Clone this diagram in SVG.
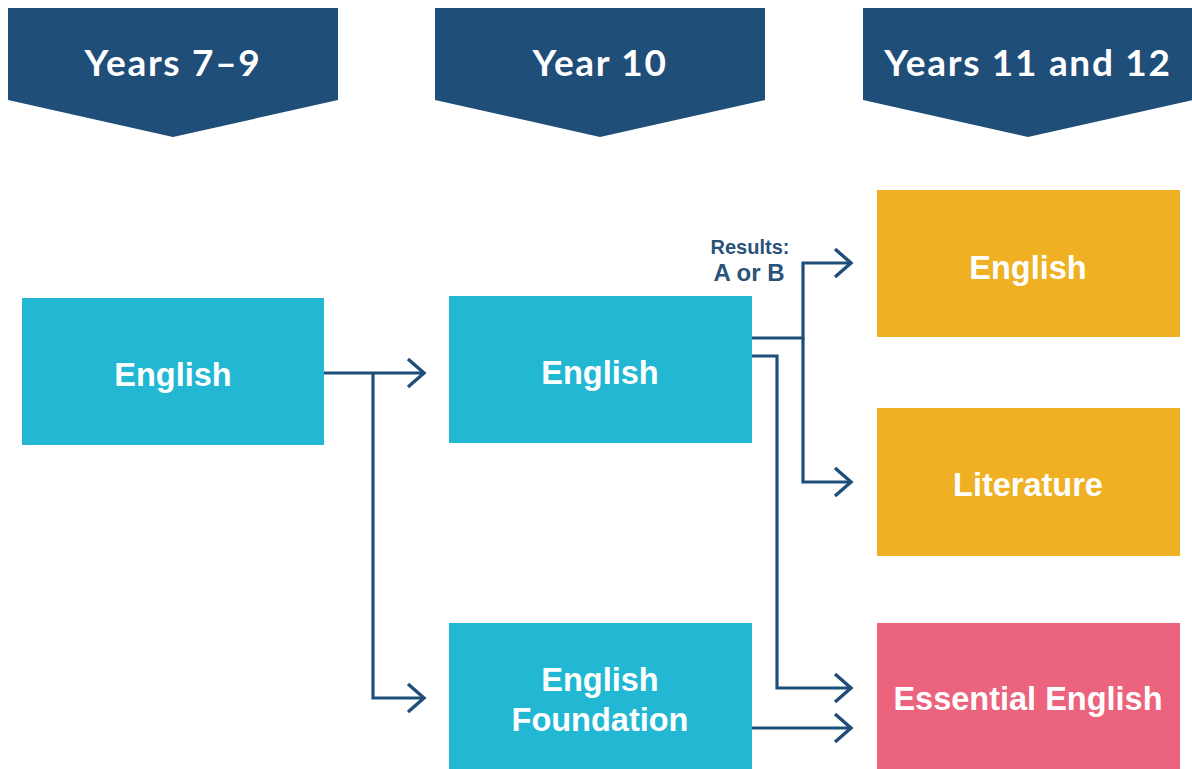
<svg xmlns="http://www.w3.org/2000/svg" width="1192" height="769" viewBox="0 0 1192 769">
<style>
.hdr{fill:#1F4E79}
.htxt{font-family:"Lato","Open Sans","Liberation Sans",sans-serif;font-weight:bold;font-size:37px;fill:#fff;text-anchor:middle;letter-spacing:1.7px}
.ntxt{font-family:"Liberation Sans",Arial,sans-serif;font-weight:bold;font-size:32.5px;fill:#fff;text-anchor:middle}
.blue{fill:#22B8D3}
.yel{fill:#F0B023}
.pink{fill:#EC637E}
.conn{fill:none;stroke:#1F4E79;stroke-width:3.2;stroke-linejoin:miter}
.lbl{font-family:"Liberation Sans",Arial,sans-serif;font-weight:bold;fill:#2B5279;text-anchor:middle}
</style>
<defs>
<marker id="arr" markerWidth="24" markerHeight="32" refX="19" refY="16" orient="auto" markerUnits="userSpaceOnUse">
<path d="M3,2 L19,16 L3,30" fill="none" stroke="#1F4E79" stroke-width="3.4"/>
</marker>
</defs>
<g id="hdr1"><path class="hdr" d="M8,8 H338 V100 L173,137 L8,100 Z"/><text class="htxt" x="173" y="76">Years 7–9</text></g>
<g id="hdr2"><path class="hdr" d="M435,8 H765 V100 L600,137 L435,100 Z"/><text class="htxt" x="600" y="76">Year 10</text></g>
<g id="hdr3"><path class="hdr" d="M863,8 H1193 V100 L1028,137 L863,100 Z"/><text class="htxt" x="1028" y="76">Years 11 and 12</text></g>
<g id="connectors">
<path class="conn" d="M324,373 H424" marker-end="url(#arr)"/>
<path class="conn" d="M373,373 V698 H424" marker-end="url(#arr)"/>
<path class="conn" d="M752,338 H803 V263 H851" marker-end="url(#arr)"/>
<path class="conn" d="M803,338 V482 H851" marker-end="url(#arr)"/>
<path class="conn" d="M752,356 H777 V688 H851" marker-end="url(#arr)"/>
<path class="conn" d="M752,728 H851" marker-end="url(#arr)"/>
</g>
<g id="label"><text class="lbl" x="750" y="254" font-size="20">Results:</text><text class="lbl" x="749" y="281" font-size="24">A or B</text></g>
<g id="n1"><rect class="blue" x="22" y="298" width="302" height="147"/><text class="ntxt" x="173" y="386">English</text></g>
<g id="n2"><rect class="blue" x="449" y="296" width="303" height="147"/><text class="ntxt" x="600" y="384">English</text></g>
<g id="n3"><rect class="blue" x="449" y="623" width="303" height="150"/><text class="ntxt" x="600" y="691">English</text><text class="ntxt" x="600" y="731">Foundation</text></g>
<g id="n4"><rect class="yel" x="877" y="190" width="303" height="147"/><text class="ntxt" x="1028" y="279">English</text></g>
<g id="n5"><rect class="yel" x="877" y="408" width="303" height="148"/><text class="ntxt" x="1028" y="496">Literature</text></g>
<g id="n6"><rect class="pink" x="877" y="623" width="303" height="150"/><text class="ntxt" x="1028" y="710">Essential English</text></g>
</svg>
